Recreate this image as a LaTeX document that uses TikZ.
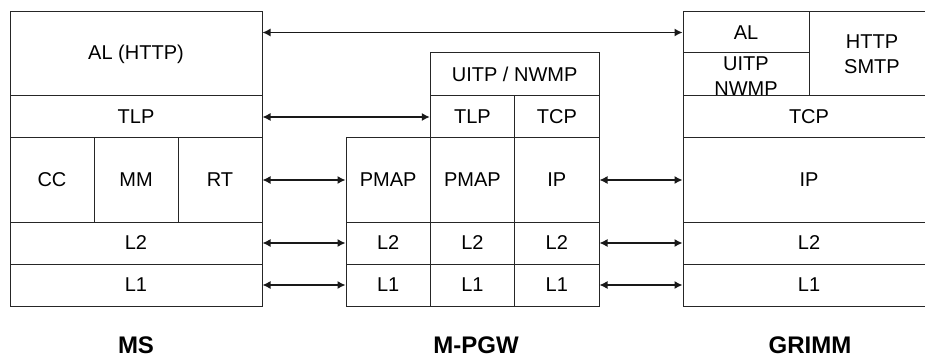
\documentclass[tikz,border=0pt]{standalone}
\usepackage{fontspec}
\setmainfont{Liberation Sans}
\usetikzlibrary{arrows.meta}
\tikzset{
  cell/.style={draw=black!85, line width=1pt, inner sep=0pt, align=center,
    font=\fontsize{20}{25}\selectfont},
  link/.style={draw=black!90, line width=1.3pt,
    {Latex[length=8pt,width=8pt]}-{Latex[length=8pt,width=8pt]}},
  title/.style={anchor=base, font=\fontsize{24}{28}\selectfont\bfseries}
}
\begin{document}
\begin{tikzpicture}[x=1pt,y=-1pt]
\useasboundingbox (0,0) rectangle (925,358);

% MS protocol stack
\node[cell, minimum width=252, minimum height=84] (msal)  at (136,54)  {AL (HTTP)};
\node[cell, minimum width=252, minimum height=42] (mstlp) at (136,117) {TLP};
\node[cell, minimum width=84,  minimum height=84] (mscc)  at (52,180)  {CC};
\node[cell, minimum width=84,  minimum height=84] (msmm)  at (136,180) {MM};
\node[cell, minimum width=84,  minimum height=84] (msrt)  at (220,180) {RT};
\node[cell, minimum width=252, minimum height=42] (msl2)  at (136,243) {L2};
\node[cell, minimum width=252, minimum height=42] (msl1)  at (136,285) {L1};

% M-PGW protocol stack
\node[cell, minimum width=168.7, minimum height=43] (pguitp) at (514.65,74.5) {UITP / NWMP};
\node[cell, minimum width=84.3, minimum height=42] (pgtlp)  at (472.45,117) {TLP};
\node[cell, minimum width=84.3, minimum height=42] (pgtcp)  at (556.85,117) {TCP};
\node[cell, minimum width=84.3, minimum height=84] (pgpma)  at (388.15,180) {PMAP};
\node[cell, minimum width=84.3, minimum height=84] (pgpmb)  at (472.45,180) {PMAP};
\node[cell, minimum width=84.3, minimum height=84] (pgip)   at (556.85,180) {IP};
\node[cell, minimum width=84.3, minimum height=42] (pgl2a)  at (388.15,243) {L2};
\node[cell, minimum width=84.3, minimum height=42] (pgl2b)  at (472.45,243) {L2};
\node[cell, minimum width=84.3, minimum height=42] (pgl2c)  at (556.85,243) {L2};
\node[cell, minimum width=84.3, minimum height=42] (pgl1a)  at (388.15,285) {L1};
\node[cell, minimum width=84.3, minimum height=42] (pgl1b)  at (472.45,285) {L1};
\node[cell, minimum width=84.3, minimum height=42] (pgl1c)  at (556.85,285) {L1};

% GRIMM protocol stack
\node[cell, minimum width=126, minimum height=41] (gral)   at (746,32.5) {AL};
\node[cell, minimum width=126, minimum height=43] (gruitp) at (746,74.5) {};
\node[align=center, inner sep=0pt, font=\fontsize{20}{25}\selectfont] (gruitpt) at (746,76) {UITP\\NWMP};
\node[cell, minimum width=126, minimum height=84] (grhttp) at (872,54) {HTTP\\SMTP};
\node[cell, minimum width=252, minimum height=42] (grtcp)  at (809,117) {TCP};
\node[cell, minimum width=252, minimum height=84] (grip)   at (809,180) {IP};
\node[cell, minimum width=252, minimum height=42] (grl2)   at (809,243) {L2};
\node[cell, minimum width=252, minimum height=42] (grl1)   at (809,285) {L1};

% peer-to-peer links
\draw[link] (msal.east |- gral.west) -- (gral.west);
\draw[link] (mstlp.east) -- (pgtlp.west);
\draw[link] (msrt.east) -- (pgpma.west);
\draw[link] (msl2.east) -- (pgl2a.west);
\draw[link] (msl1.east) -- (pgl1a.west);
\draw[link] (pgip.east) -- (grip.west);
\draw[link] (pgl2c.east) -- (grl2.west);
\draw[link] (pgl1c.east) -- (grl1.west);

% entity names
\node[title] (tms)   at (136,353) {MS};
\node[title] (tpgw)  at (476,353) {M-PGW};
\node[title] (tgrim) at (810,353) {GRIMM};
\end{tikzpicture}
\end{document}
